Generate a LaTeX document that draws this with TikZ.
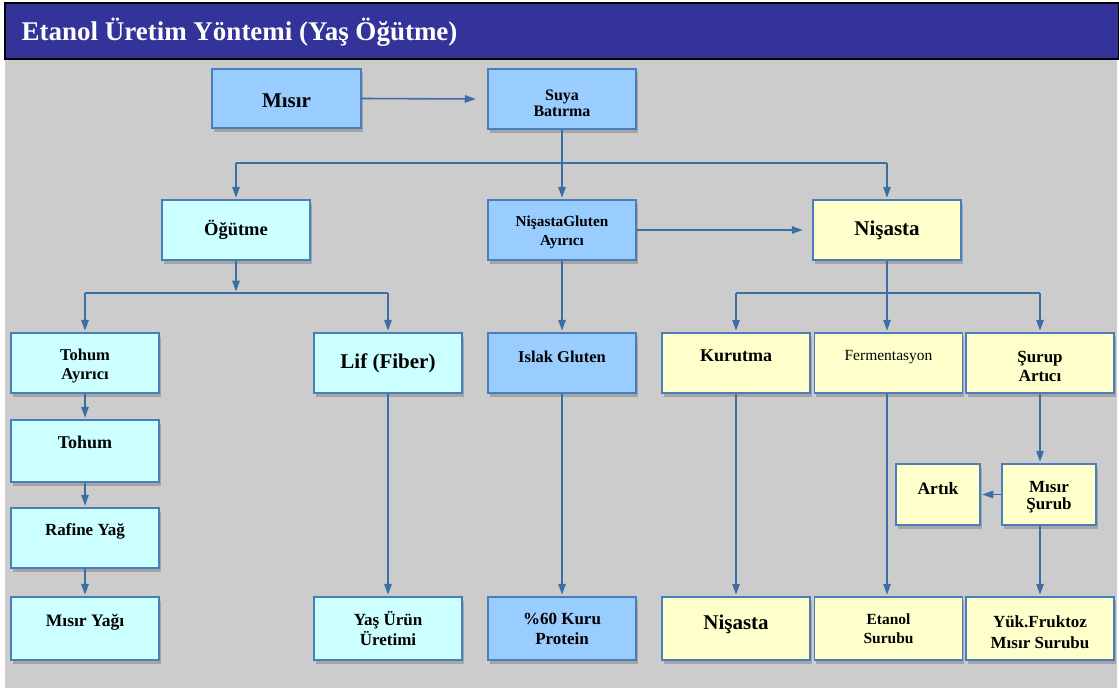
\documentclass[tikz,border=0pt]{standalone}
\usepackage{fontspec}
\setmainfont{Liberation Serif}
\usetikzlibrary{arrows.meta,shadows}

\definecolor{titlebg}{HTML}{333399}
\definecolor{panel}{HTML}{CCCCCC}
\definecolor{cyanbox}{HTML}{CCFFFF}
\definecolor{bluebox}{HTML}{99CCFF}
\definecolor{yellowbox}{HTML}{FFFFCC}
\definecolor{edge}{HTML}{4A7EBB}
\definecolor{flow}{HTML}{3C6EA6}

\newcommand\fsz[2]{\fontsize{#1}{#2}\selectfont}
% invisible strut that pushes a label down inside its box
\newcommand\topstrut[1]{\rule{0pt}{#1}}

\tikzset{
  box/.style={draw=edge, line width=1.5pt, minimum width=148pt, minimum height=60pt,
    inner sep=0pt, align=center,
    drop shadow={shadow xshift=1.5pt, shadow yshift=-4pt, opacity=0.3, fill=black!70}},
  cyanb/.style={box, fill=cyanbox},
  blueb/.style={box, fill=bluebox},
  yellowb/.style={box, fill=yellowbox},
  liftby/.style={text depth=#1},
  ln/.style={draw=flow, line width=1.6pt},
  arr/.style={ln, -{Triangle[length=11pt,width=7.5pt]}, shorten >=1.5pt},
}

\begin{document}
\begin{tikzpicture}[x=1pt, y=-1pt]
  \useasboundingbox (0,0) rectangle (1119,688);
  \fill[white] (0,0) rectangle (1119,688);
  % panel and title bar
  \fill[panel] (5,58) rectangle (1117,688);
  \node[draw=black, line width=2pt, fill=titlebg, minimum width=1114pt, minimum height=56pt,
        inner sep=0pt, anchor=north west] (title) at (4,2) {};
  \node[text=white, font={\fsz{27}{30}\bfseries}, anchor=west] (titletext)
        at ([xshift=14pt,yshift=-1pt]title.west) {Etanol Üretim Yöntemi (Yaş Öğütme)};

  % first stage
  \node[blueb, minimum width=149pt, minimum height=59pt, font={\fsz{21}{22}\bfseries}] (misir) at (286.5,98.5) {\topstrut{18pt}Mısır};
  \node[blueb, font={\fsz{16}{16}\bfseries}] (suya) at (562,99) {\topstrut{19pt}Suya\\Batırma};

  % second stage
  \node[cyanb, font={\fsz{18.5}{19}\bfseries}] (ogutme) at (236,230) {Öğütme};
  \node[blueb, font={\fsz{15.3}{19}\bfseries}] (ngayirici) at (562,230) {\topstrut{14.6pt}NişastaGluten\\Ayırıcı};
  \node[yellowb, font={\fsz{21}{23}\bfseries}] (nisasta) at (887,230) {Nişasta};

  % third stage
  \node[cyanb, font={\fsz{16.5}{19}\bfseries}] (tohumay) at (85,363) {\topstrut{17.4pt}Tohum\\Ayırıcı};
  \node[cyanb, font={\fsz{21}{23}\bfseries}] (lif) at (388,363) {Lif (Fiber)};
  \node[blueb, font={\fsz{16.5}{19}\bfseries}, liftby=12pt] (islak) at (562,363) {Islak Gluten};
  \node[yellowb, font={\fsz{18}{20}\bfseries}, liftby=14pt] (kurutma) at (736,363) {Kurutma};
  \node[yellowb, font={\fsz{15.5}{18}}, liftby=16pt] (ferm) at (888.5,363) {Fermentasyon};
  \node[yellowb, font={\fsz{17}{19}\bfseries}] (surup) at (1040,363) {\topstrut{17.6pt}Şurup\\Artıcı};

  % oil line
  \node[cyanb, minimum height=62pt, font={\fsz{18}{20}\bfseries}, liftby=18pt] (tohum) at (85,451) {Tohum};
  \node[cyanb, font={\fsz{17}{18}\bfseries}, liftby=16pt] (rafine) at (85,538) {Rafine Yağ};

  % syrup branch
  \node[yellowb, minimum width=84pt, minimum height=61pt, font={\fsz{17.5}{19}\bfseries}, liftby=12pt] (artik) at (938,494.5) {Artık};
  \node[yellowb, minimum width=94pt, minimum height=61pt, font={\fsz{17}{17}\bfseries}] (misirsurub) at (1049,494.5) {\topstrut{17.3pt}Mısır\\Şurub};

  % products
  \node[cyanb, minimum height=63pt, font={\fsz{17.5}{19}\bfseries}, liftby=16pt] (misiryagi) at (85,628.5) {Mısır Yağı};
  \node[cyanb, minimum height=63pt, font={\fsz{17}{20}\bfseries}] (yasurun) at (388,628.5) {Yaş Ürün\\Üretimi};
  \node[blueb, minimum height=63pt, font={\fsz{17}{20}\bfseries}] (protein) at (562,628.5) {\%60 Kuru\\Protein};
  \node[yellowb, minimum height=63pt, font={\fsz{21}{23}\bfseries}, liftby=12pt] (nisasta2) at (736,628.5) {Nişasta};
  \node[yellowb, minimum height=63pt, font={\fsz{15.5}{19}\bfseries}] (etanol) at (888.5,628.5) {Etanol\\Surubu};
  \node[yellowb, minimum height=63pt, font={\fsz{17}{21}\bfseries}] (fruktoz) at (1040,628.5) {\topstrut{19.6pt}Yük.Fruktoz\\Mısır Surubu};

  % split points
  \coordinate (top split) at (562,163);
  \coordinate (grind split) at (236,293);
  \coordinate (starch split) at (887,293);

  % connectors, upper part
  \draw[arr] (misir.east) -- ([xshift=-10pt]suya.west);
  \draw[ln] (suya.south) -- (top split);
  \draw[ln] (top split -| ogutme) -- (top split -| nisasta);
  \draw[arr] (top split) -- (ngayirici.north);
  \draw[arr] (top split -| ogutme) -- (ogutme.north);
  \draw[arr] (top split -| nisasta) -- (nisasta.north);
  \draw[arr] (ngayirici.east) -- ([xshift=-8pt]nisasta.west);

  % grinding branch
  \draw[arr] (ogutme.south) -- (grind split);
  \draw[ln] (grind split -| tohumay) -- (grind split -| lif);
  \draw[arr] (grind split -| tohumay) -- (tohumay.north);
  \draw[arr] (grind split -| lif) -- (lif.north);
  \draw[arr] (ngayirici.south) -- (islak.north);

  % starch branch
  \draw[ln] (nisasta.south) -- (starch split);
  \draw[ln] (starch split -| kurutma) -- (starch split -| surup);
  \draw[arr] (starch split -| kurutma) -- (kurutma.north);
  \draw[arr] (starch split) -- (ferm.north -| starch split);
  \draw[arr] (starch split -| surup) -- (surup.north);

  % vertical product lines
  \draw[arr] (tohumay.south) -- (tohum.north);
  \draw[arr] (tohum.south) -- (rafine.north);
  \draw[arr] (rafine.south) -- (misiryagi.north);
  \draw[arr] (lif.south) -- (yasurun.north);
  \draw[arr] (islak.south) -- (protein.north);
  \draw[arr] (kurutma.south) -- (nisasta2.north);
  \draw[arr] (ferm.south -| starch split) -- (etanol.north -| starch split);
  \draw[arr] (surup.south) -- (misirsurub.north -| surup);
  \draw[arr] (misirsurub.west) -- (artik.east);
  \draw[arr] (misirsurub.south -| surup) -- (fruktoz.north);
\end{tikzpicture}
\end{document}
